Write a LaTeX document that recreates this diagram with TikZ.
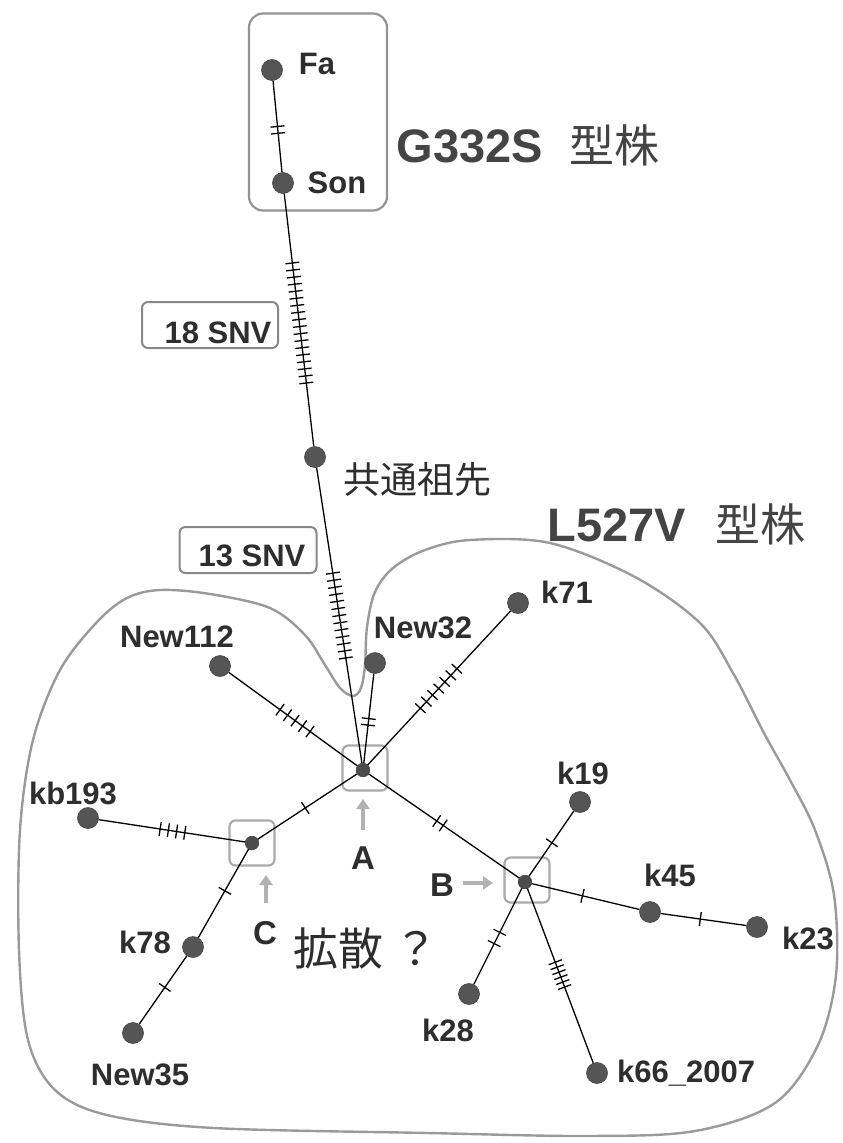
\documentclass[tikz,border=0pt]{standalone}
\usepackage{fontspec}
\setmainfont{Liberation Sans}
\newfontfamily\cjk{Noto Sans CJK JP}
\usetikzlibrary{arrows.meta}
\definecolor{dotc}{HTML}{555555}
\definecolor{outc}{HTML}{9A9A9A}
\definecolor{boxc}{HTML}{AAAAAA}
\definecolor{snvc}{HTML}{888888}
\definecolor{txtc}{HTML}{2E2E2E}
\definecolor{bigc}{HTML}{444444}
\newcommand\tickset[5]{%
  \pgfmathsetmacro\tkstep{(#4-#3)/max(#5-1,1)}%
  \foreach \ti in {1,...,#5}{%
    \pgfmathsetmacro\tkpos{#3+(\ti-1)*\tkstep}%
    \path (#1.center) -- (#2.center) node[tk, pos=\tkpos] {};
  }}
\begin{document}
\begin{tikzpicture}[x=1pt,y=-1pt,
  vdot/.style={circle, fill=dotc, draw=dotc!80!black, line width=0.6pt, minimum size=21pt, inner sep=0},
  hub/.style={circle, fill=dotc!90!black, minimum size=14pt, inner sep=0},
  hubbox/.style={draw=boxc, line width=2.2pt, rounded corners=6pt, minimum size=45pt, inner sep=0},
  lbl/.style={font=\bfseries\fontsize{31}{34}\selectfont, text=txtc, inner sep=0},
  abc/.style={font=\bfseries\fontsize{33}{36}\selectfont, text=txtc, inner sep=0},
  big/.style={font=\bfseries\fontsize{47}{52}\selectfont, text=bigc, inner sep=0},
  bigj/.style={font=\cjk\fontsize{45}{50}\selectfont, text=bigc, inner sep=0},
  edge/.style={draw=black, line width=1.3pt},
  tk/.style={sloped, inner sep=0, outer sep=0, minimum size=0pt, font=\fontsize{1}{1}\selectfont},
  garrow/.style={draw=gray!60, line width=3.4pt, -{Triangle[width=13pt,length=10pt]}},
  outline/.style={draw=outc, line width=2.4pt},
  snvbox/.style={draw=snvc, line width=2pt, rounded corners=6pt, inner sep=0}
]
\useasboundingbox (0,0) rectangle (843,1143);
\fill[white] (0,0) rectangle (843,1143);
\def\tkrule{\rule[-7pt]{1.3pt}{14pt}}
\tikzset{tk/.append style={node contents=\tkrule}}

% L527V outline
\draw[outline] plot[smooth cycle, tension=0.55] coordinates {
 (353,696) (340,688) (325,665) (305,635) (270,608) (210,594) (160,590) (127,598)
 (97,622) (60,670) (33,740) (20,830) (19,950) (28,1040) (55,1090) (107,1115)
 (214,1128) (428,1133) (588,1136) (695,1131) (775,1103) (818,1045) (836,975)
 (834,895) (815,830) (790,780) (765,735) (733,673) (700,623) (635,577) (550,543)
 (470,540) (425,550) (393,568) (375,592) (367,627) (365,665) (361,688)};

% G332S box
\node[draw=snvc!90, line width=2.2pt, rounded corners=14pt, minimum width=138pt, minimum height=197pt, inner sep=0] (gbox) at (318,112) {};

% SNV boxes
\node[snvbox, minimum width=136pt, minimum height=46pt] (s18box) at (210,325) {};
\node[font=\bfseries\fontsize{31}{34}\selectfont, text=txtc, inner sep=0] (s18) at (218,333) {18 SNV};
\node[snvbox, minimum width=137pt, minimum height=46pt] (s13box) at (248,550) {};
\node[font=\bfseries\fontsize{31}{34}\selectfont, text=txtc, inner sep=0] (s13) at (252,556) {13 SNV};

% hub boxes
\node[hubbox] (Abox) at (365,768) {};
\node[hubbox] (Bbox) at (527,880) {};
\node[hubbox] (Cbox) at (252,843) {};

% nodes
\node[vdot] (Fa) at (272,70) {};
\node[vdot] (Son) at (283,183) {};
\node[vdot] (Anc) at (315,457) {};
\node[hub] (A) at (363,770) {};
\node[vdot] (New32) at (375,663) {};
\node[vdot] (k71) at (518,603) {};
\node[vdot] (New112) at (220,666) {};
\node[hub] (C) at (252,843) {};
\node[vdot] (kb193) at (88,818) {};
\node[vdot] (k78) at (193,947) {};
\node[vdot] (New35) at (133,1033) {};
\node[hub] (B) at (525,882) {};
\node[vdot] (k19) at (580,802) {};
\node[vdot] (k45) at (650,912) {};
\node[vdot] (k23) at (757,927) {};
\node[vdot] (k28) at (469,994) {};
\node[vdot] (k66) at (597,1073) {};

% edges
\draw[edge] (Fa) -- (Son);
\draw[edge] (Son) -- (Anc);
\draw[edge] (Anc) -- (A.center);
\draw[edge] (New32) -- (A.center);
\draw[edge] (k71) -- (A.center);
\draw[edge] (New112) -- (A.center);
\draw[edge] (C.center) -- (A.center);
\draw[edge] (B.center) -- (A.center);
\draw[edge] (kb193) -- (C.center);
\draw[edge] (k78) -- (C.center);
\draw[edge] (New35) -- (k78);
\draw[edge] (k19) -- (B.center);
\draw[edge] (k45) -- (B.center);
\draw[edge] (k23) -- (k45);
\draw[edge] (k28) -- (B.center);
\draw[edge] (k66) -- (B.center);
\node[hub] at (A) {};
\node[hub] at (B) {};
\node[hub] at (C) {};

% ticks
\tickset{Fa}{Son}{0.50}{0.56}{2}
\tickset{Son}{Anc}{0.292}{0.730}{18}
\tickset{Anc}{A}{0.371}{0.642}{13}
\tickset{New32}{A}{0.52}{0.58}{2}
\tickset{A}{k71}{0.37}{0.606}{7}
\tickset{A}{New112}{0.37}{0.58}{5}
\tickset{A}{C}{0.52}{0.52}{1}
\tickset{C}{kb193}{0.41}{0.56}{4}
\tickset{C}{k78}{0.46}{0.46}{1}
\tickset{k78}{New35}{0.47}{0.47}{1}
\tickset{A}{B}{0.455}{0.495}{2}
\tickset{B}{k19}{0.49}{0.49}{1}
\tickset{B}{k45}{0.46}{0.46}{1}
\tickset{k45}{k23}{0.47}{0.47}{1}
\tickset{B}{k28}{0.45}{0.55}{2}
\tickset{B}{k66}{0.42}{0.55}{6}

% arrows
\coordinate (Aa0) at (363,830);
\coordinate (Aa1) at (363,799);
\draw[garrow] (Aa0) -- (Aa1);
\coordinate (Ba0) at (463,883);
\coordinate (Ba1) at (493,883);
\draw[garrow] (Ba0) -- (Ba1);
\coordinate (Ca0) at (266,903);
\coordinate (Ca1) at (266,875);
\draw[garrow] (Ca0) -- (Ca1);

% labels
\node[lbl] (FaL) at (317,64) {Fa};
\node[lbl] (SonL) at (337,183) {Son};
\node[lbl] (New32L) at (423,628) {New32};
\node[lbl] (k71L) at (567,592) {k71};
\node[lbl] (New112L) at (177,637) {New112};
\node[lbl] (kb193L) at (73,793) {kb193};
\node[lbl] (k78L) at (145,942) {k78};
\node[lbl] (New35L) at (140,1075) {New35};
\node[lbl] (k19L) at (583,773) {k19};
\node[lbl] (k45L) at (670,875) {k45};
\node[lbl] (k23L) at (808,938) {k23};
\node[lbl] (k28L) at (448,1030) {k28};
\node[lbl, anchor=west] (k66L) at (617,1073) {k66\_2007};
\node[abc] (AL) at (363,858) {A};
\node[abc] (BL) at (442,885) {B};
\node[abc] (CL) at (265,933) {C};

\node[font=\cjk\fontsize{37}{40}\selectfont, text=txtc, inner sep=0] (ancL) at (417,480) {共通祖先};
\node[font=\cjk\fontsize{45}{50}\selectfont, text=txtc, inner sep=0] (kakusan) at (366,948) {拡散 ？};

\node[big] (g332) at (470,146) {G332S};
\node[bigj] (g332j) at (614,145) {型株};
\node[big] (l527) at (617,525) {L527V};
\node[bigj] (l527j) at (760,524) {型株};
\end{tikzpicture}
\end{document}
